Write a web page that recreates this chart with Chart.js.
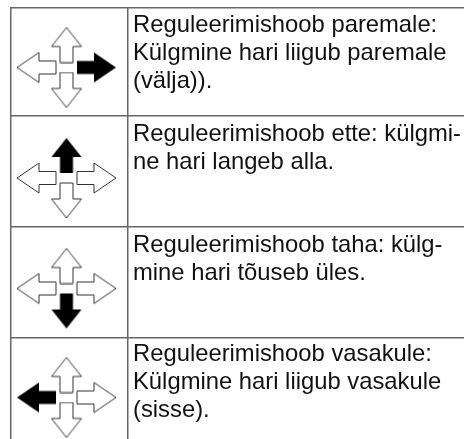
<!DOCTYPE html>
<html>
<head>
<meta charset="utf-8">
<style>
  html, body { margin: 0; padding: 0; background: #fff; }
  #wrap { width: 464px; height: 439px; }
</style>
<script src="https://cdn.jsdelivr.net/npm/chart.js@4/dist/chart.umd.js"></script>
</head>
<body>
<div id="wrap"><canvas id="chart"></canvas></div>
<script>
// table rules and row centres, in the page's own units
const columnRules = [10.5, 128];
const rowRules = [7.5, 116, 227, 338];
const rowCentres = [67.5, 178, 288.5, 397.5];
const iconCentreX = 66.5;

// which arrow is black in each row
const activeArrows = ["right", "up", "down", "left"];

// text of each row, one string per printed line
const rowLines = [
  ["Reguleerimishoob paremale:", "Külgmine hari liigub paremale", "(välja))."],
  ["Reguleerimishoob ette: külgmi-", "ne hari langeb alla."],
  ["Reguleerimishoob taha: külg-", "mine hari tõuseb üles."],
  ["Reguleerimishoob vasakule:", "Külgmine hari liigub vasakule", "(sisse)."]
];
const firstBaselines = [32, 141, 252, 361];
const lineStep = 28;
const textX = 133;

// arrow centre offset from the icon centre
const arrowOffsets = {
  right: { dx: 30, dy: 0 },
  left: { dx: -30, dy: 0 },
  up: { dx: 0, dy: -22.5 },
  down: { dx: 0, dy: 22.5 }
};
const arrowRotation = { up: 0, right: 90, down: 180, left: 270 };

// glyph for an arrow pointing up, the library rotates it per direction
function makeArrow(len, head, filled) {
  const w = 32, h = len + 2;
  const c = document.createElement("canvas");
  c.width = w; c.height = h;
  const g = c.getContext("2d");
  const m = w / 2;
  g.beginPath();
  g.moveTo(m, 1);
  g.lineTo(m + 15, head + 1);
  g.lineTo(m + 6.5, head + 1);
  g.lineTo(m + 6.5, h - 1);
  g.lineTo(m - 6.5, h - 1);
  g.lineTo(m - 6.5, head + 1);
  g.lineTo(m - 15, head + 1);
  g.closePath();
  if (filled) {
    g.fillStyle = "#000";
    g.fill();
  } else {
    g.strokeStyle = "#333";
    g.lineWidth = 1;
    g.stroke();
  }
  return c;
}

function arrowDataset(dir, filled) {
  const upright = dir === "up" || dir === "down";
  const rows = [];
  rowCentres.forEach((y, i) => {
    if ((activeArrows[i] === dir) === filled) {
      rows.push({ x: iconCentreX + arrowOffsets[dir].dx, y: y + arrowOffsets[dir].dy });
    }
  });
  return {
    data: rows,
    pointStyle: makeArrow(upright ? 35 : 39, upright ? 19 : 22, filled),
    rotation: arrowRotation[dir],
    showLine: false,
    clip: false
  };
}

const datasets = [];
["up", "right", "down", "left"].forEach(dir => {
  datasets.push(arrowDataset(dir, false));
  datasets.push(arrowDataset(dir, true));
});

const rowText = {
  id: "rowText",
  afterDatasetsDraw(chart) {
    const ctx = chart.ctx;
    const xs = chart.scales.x, ys = chart.scales.y;
    ctx.save();
    ctx.font = '23.8px "Liberation Sans"';
    ctx.fillStyle = "#111";
    ctx.textBaseline = "alphabetic";
    rowLines.forEach((lines, i) => {
      lines.forEach((line, j) => {
        ctx.fillText(line, xs.getPixelForValue(textX), ys.getPixelForValue(firstBaselines[i] + j * lineStep));
      });
    });
    ctx.restore();
  }
};

function ruleScale(min, max, rules, reverse) {
  return {
    type: "linear",
    min: min,
    max: max,
    reverse: reverse,
    border: { display: false },
    afterBuildTicks(scale) { scale.ticks = rules.map(v => ({ value: v })); },
    grid: { color: "#666", lineWidth: 1.5, drawTicks: false },
    ticks: { display: false }
  };
}

new Chart(document.getElementById("chart"), {
  type: "scatter",
  data: { datasets: datasets },
  options: {
    responsive: true,
    maintainAspectRatio: false,
    animation: false,
    layout: { autoPadding: false, padding: { left: 10, top: 7, right: 0, bottom: 0 } },
    plugins: { legend: { display: false }, tooltip: { enabled: false }, title: { display: false } },
    scales: {
      x: ruleScale(10, 464, columnRules, false),
      y: ruleScale(7, 439, rowRules, true)
    }
  },
  plugins: [rowText]
});
</script>
</body>
</html>
